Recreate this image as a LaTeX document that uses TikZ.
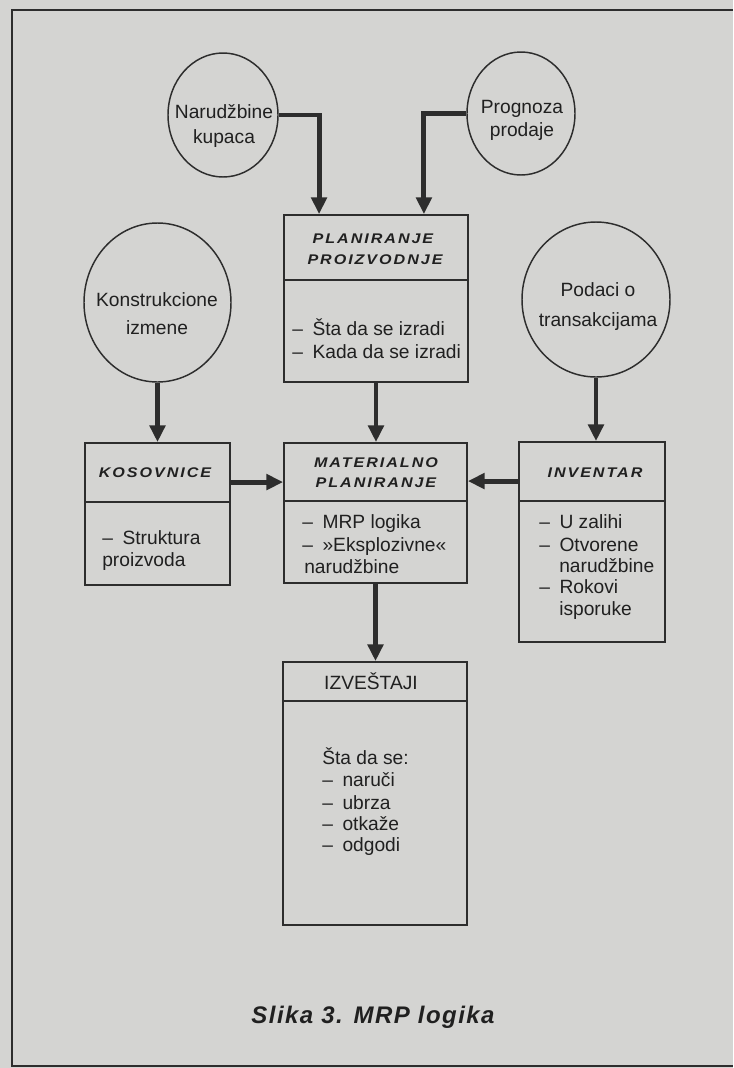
\documentclass[tikz,border=0pt]{standalone}
\usepackage{fontspec}
\setmainfont{Liberation Sans}
\newfontfamily\titlefont[LetterSpace=14,FakeStretch=1.15]{Liberation Sans}
\newfontfamily\capfont[LetterSpace=6]{Liberation Sans}
\usetikzlibrary{arrows.meta,shapes.geometric}
\newlength\pxl \setlength\pxl{0.75pt}
\definecolor{paper}{RGB}{212,212,210}
\definecolor{ink}{RGB}{45,45,45}
\definecolor{textink}{RGB}{32,32,32}
\begin{document}
\begin{tikzpicture}[x=0.75pt,y=-0.75pt,
  boxnode/.style={draw=ink, line width=1.4pt, inner sep=0pt, rectangle},
  circnode/.style={draw=ink, line width=1.1pt, inner sep=0pt, ellipse},
  divline/.style={draw=ink, line width=1.4pt},
  arr/.style={draw=ink, line width=3.7pt, -{Triangle[length=12.5pt,width=11.5pt]}},
  body/.style={font=\fontsize{14.4}{16}\selectfont, text=textink, inner sep=0pt, anchor=base west},
  bodyc/.style={font=\fontsize{14.4}{16}\selectfont, text=textink, inner sep=0pt, anchor=base},
  ttl/.style={font=\titlefont\bfseries\itshape\fontsize{10.5}{12}\selectfont, text=textink, inner sep=0pt, anchor=base},
  capt/.style={font=\capfont\bfseries\itshape\fontsize{18}{20}\selectfont, text=textink, inner sep=0pt, anchor=base},
]
\fill[paper] (0,0) rectangle (733,1068);
\useasboundingbox (0,0) rectangle (733,1068);
\draw[ink, line width=1.2pt] (733,10) -- (12,10) -- (12,1066) -- (733,1066);

% circles
\node[circnode, minimum width=110\pxl, minimum height=124\pxl] (nar) at (223,115) {};
\node[circnode, minimum width=108\pxl, minimum height=123\pxl] (prog) at (521,113.5) {};
\node[circnode, minimum width=147\pxl, minimum height=159\pxl] (kon) at (157.5,302.5) {};
\node[circnode, minimum width=148\pxl, minimum height=155\pxl] (pod) at (596,299.5) {};

\node[bodyc] (nar1) at (224,118) {Narudžbine};
\node[bodyc] (nar2) at (224,143) {kupaca};
\node[bodyc] (prog1) at (522,113) {Prognoza};
\node[bodyc] (prog2) at (522,136) {prodaje};
\node[bodyc] (kon1) at (157,306) {Konstrukcione};
\node[bodyc] (kon2) at (157,334) {izmene};
\node[bodyc] (pod1) at (598,296) {Podaci o};
\node[bodyc] (pod2) at (598,326) {transakcijama};

% boxes
\node[boxnode, minimum width=184\pxl, minimum height=167\pxl] (plan) at (376,298.5) {};
\node[boxnode, minimum width=145\pxl, minimum height=142\pxl] (kos) at (157.5,514) {};
\node[boxnode, minimum width=183\pxl, minimum height=140\pxl] (mat) at (375.5,513) {};
\node[boxnode, minimum width=146\pxl, minimum height=200\pxl] (inv) at (592,542) {};
\node[boxnode, minimum width=184\pxl, minimum height=263\pxl] (izv) at (375,793.5) {};

\draw[divline] ([yshift=-66\pxl]plan.north west) -- ([yshift=-66\pxl]plan.north east);
\draw[divline] ([yshift=-60\pxl]kos.north west) -- ([yshift=-60\pxl]kos.north east);
\draw[divline] ([yshift=-59\pxl]mat.north west) -- ([yshift=-59\pxl]mat.north east);
\draw[divline] ([yshift=-60\pxl]inv.north west) -- ([yshift=-60\pxl]inv.north east);
\draw[divline] ([yshift=-40\pxl]izv.north west) -- ([yshift=-40\pxl]izv.north east);

% box texts
\node[ttl] (plant1) at (373,243) {PLANIRANJE};
\node[ttl] (plant2) at (375,264) {PROIZVODNJE};
\node[body] (planb1) at (292,335) {–\enspace Šta da se izradi};
\node[body] (planb2) at (292,358) {–\enspace Kada da se izradi};

\node[ttl] (kost) at (155,477) {KOSOVNICE};
\node[body] (kosb1) at (102,544) {–\enspace Struktura};
\node[body] (kosb2) at (102,566) {proizvoda};

\node[ttl] (matt1) at (376,467) {MATERIALNO};
\node[ttl] (matt2) at (376,487) {PLANIRANJE};
\node[body] (matb1) at (302,528) {–\enspace MRP logika};
\node[body] (matb2) at (302,551) {–\enspace »Eksplozivne«};
\node[body] (matb3) at (304,573) {narudžbine};

\node[ttl] (invt) at (595,477) {INVENTAR};
\node[body] (invb1) at (539,528) {–\enspace U zalihi};
\node[body] (invb2) at (539,551) {–\enspace Otvorene};
\node[body] (invb3) at (559,572) {narudžbine};
\node[body] (invb4) at (539,593) {–\enspace Rokovi};
\node[body] (invb5) at (559,615) {isporuke};

\node[bodyc] (izvt) at (371,689.5) {IZVEŠTAJI};
\node[body] (izvb1) at (322,764) {Šta da se:};
\node[body] (izvb2) at (322,786) {–\enspace naruči};
\node[body] (izvb3) at (322,809) {–\enspace ubrza};
\node[body] (izvb4) at (322,830) {–\enspace otkaže};
\node[body] (izvb5) at (322,851) {–\enspace odgodi};

\node[capt] (caption) at (373,1023) {Slika 3. MRP logika};

% connectors
\coordinate (k1) at ([yshift=-40\pxl]kos.north east);
\coordinate (i1) at ([yshift=-40\pxl]inv.north west);
\draw[arr] (nar.east) -| ([xshift=36\pxl]plan.north west);
\draw[arr] (prog.west) -| ([xshift=-45\pxl]plan.north east);
\draw[arr] (kon.south) -- (kon.south |- kos.north);
\draw[arr] (plan.south) -- (plan.south |- mat.north);
\draw[arr] (pod.south) -- (pod.south |- inv.north);
\draw[arr] (k1) -- (k1 -| mat.west);
\draw[arr] (i1) -- (i1 -| mat.east);
\draw[arr] (mat.south) -- (mat.south |- izv.north);
\end{tikzpicture}
\end{document}
